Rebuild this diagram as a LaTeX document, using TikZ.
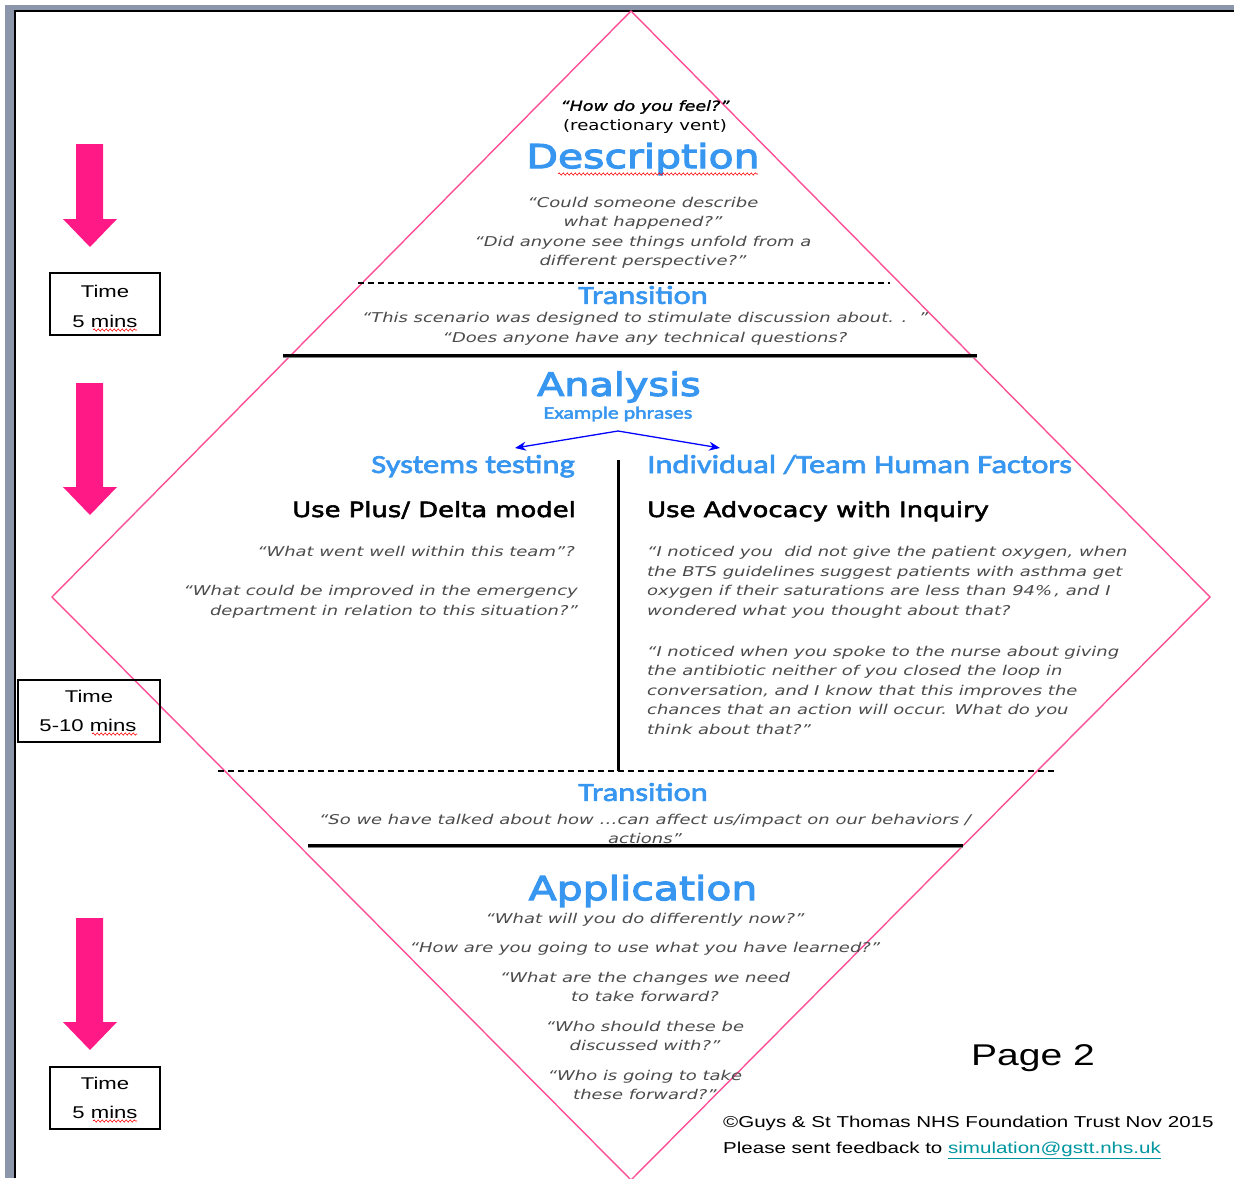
\documentclass[tikz,border=0pt]{standalone}
\usepackage{fontspec}
\usetikzlibrary{arrows.meta,decorations.pathmorphing}
\newfontfamily\dvf[FakeStretch=1.25]{DejaVu Sans}
\newfontfamily\dvtf[FakeStretch=1.24,FakeBold=3.5]{DejaVu Sans}
\newfontfamily\dvhf[FakeStretch=1.23,FakeBold=2.5]{DejaVu Sans}
\newfontfamily\dvqf[FakeStretch=1.33]{DejaVu Sans}
\newfontfamily\dvqbf[FakeStretch=1.25,FakeBold=1.5]{DejaVu Sans}
\newfontfamily\clf[FakeStretch=1.25,FakeBold=2.5]{Carlito}
\newfontfamily\arf[FakeStretch=1.3]{Liberation Sans}
\definecolor{pinkline}{RGB}{252,80,150}
\definecolor{pinkarrow}{RGB}{255,25,135}
\definecolor{tblue}{RGB}{55,150,240}
\definecolor{qgray}{RGB}{75,75,75}
\definecolor{linkc}{RGB}{0,150,160}
\definecolor{framegray}{RGB}{140,150,170}
\tikzset{
  title/.style={font=\dvtf\fontsize{33}{36}\selectfont, text=tblue, inner sep=0pt},
  sub/.style={font=\clf\fontsize{26}{28}\selectfont, text=tblue, inner sep=0pt},
  qt/.style={font=\dvqf\itshape\fontsize{13.5}{19.5}\selectfont, text=qgray, inner sep=0pt},
  headtxt/.style={font=\dvhf\fontsize{21}{24}\selectfont, inner sep=0pt},
  timebox/.style={draw, line width=1.5pt, inner sep=0pt, minimum height=62pt},
  timetxt/.style={font=\arf\fontsize{17}{20}\selectfont, inner sep=0pt},
  dashline/.style={line width=1.2pt, dash pattern=on 6pt off 4pt},
  solidline/.style={line width=3pt},
  barrow/.style={blue, line width=1.3pt, -{Stealth[length=11pt,width=9pt]}},
  squig/.style={red, line width=0.6pt, decorate, decoration={snake, amplitude=1.1pt, segment length=4pt}},
  parrow/.style={fill=pinkarrow}
}
\begin{document}
\begin{tikzpicture}[x=1pt,y=-1pt]
\useasboundingbox (0,0) rectangle (1234,1178);
\fill[white] (0,0) rectangle (1234,1178);
% page frame
\fill[framegray] (5,5) rectangle (1234,10);
\fill[framegray] (5,5) rectangle (14,1178);
\draw[line width=1.5pt] (15,1178) -- (15,11) -- (1234,11);
% diamond
\coordinate (dtop) at (631,11);
\coordinate (dright) at (1210,597);
\coordinate (dbot) at (631,1180);
\coordinate (dleft) at (52,597);
\draw[pinkline, line width=1.4pt] (dtop) -- (dright) -- (dbot) -- (dleft) -- cycle;
% separators
\draw[dashline] (358,283) -- (890,283);
\draw[gray, line width=1.5pt] (283,357.5) -- (977,357.5);
\draw[solidline] (283,355) -- (977,355);
\draw[dashline] (218,771) -- (1055,771);
\draw[gray, line width=1.5pt] (308,847.5) -- (963,847.5);
\draw[solidline] (308,845) -- (963,845);
\draw[line width=3pt] (618,460) -- (618,771);
% pink arrows
\fill[parrow] (76,144) -- (103,144) -- (103,219) -- (117,219) -- (90,247) -- (63,219) -- (76,219) -- cycle;
\fill[parrow] (76,383) -- (103,383) -- (103,487) -- (117,487) -- (90,515) -- (63,487) -- (76,487) -- cycle;
\fill[parrow] (76,918) -- (103,918) -- (103,1022) -- (117,1022) -- (90,1050) -- (63,1022) -- (76,1022) -- cycle;
% time boxes
\node[timebox, minimum width=110pt] (t1) at (105,304) {};
\node[timetxt, anchor=base] (t1a) at (105,297) {Time};
\node[timetxt, anchor=base] (t1b) at (105,327) {5 mins};
\node[timebox, minimum width=142pt] (t2) at (89,711) {};
\node[timetxt, anchor=base] (t2a) at (89,702) {Time};
\node[timetxt, anchor=base] (t2b) at (88,731) {5-10 mins};
\node[timebox, minimum width=110pt] (t3) at (105,1098) {};
\node[timetxt, anchor=base] (t3a) at (105,1089) {Time};
\node[timetxt, anchor=base] (t3b) at (105,1118) {5 mins};
\draw[squig] (93,330) -- (137,330);
\draw[squig] (92,734) -- (137,734);
\draw[squig] (93,1121) -- (137,1121);
% Description section
\node[inner sep=0pt, font=\dvqbf\itshape\fontsize{14}{16}\selectfont] (feel) at (645,107) {“How do you feel?”};
\node[inner sep=0pt, font=\dvf\fontsize{14.5}{16}\selectfont] (vent) at (645,126) {(reactionary vent)};
\node[title] (desc) at (643,159) {Description};
\draw[squig] (558,174) -- (758,174);
\node[qt, align=center] (descq) at (643,233) {“Could someone describe\\what happened?”\\“Did anyone see things unfold from a\\different perspective?”};
\node[sub] (trans1) at (643,295) {Transition};
\node[qt, align=center] (trans1q) at (645,329) {“This scenario was designed to stimulate discussion about. .\ \ ”\\“Does anyone have any technical questions?};
% Analysis section
\node[title, font=\dvtf\fontsize{32}{36}\selectfont] (anal) at (619,387) {Analysis};
\node[sub, font=\clf\fontsize{17.5}{18}\selectfont] (ex) at (618,414) {Example phrases};
\coordinate (fork) at (618,431);
\coordinate (lend) at (515,448);
\coordinate (rend) at (720,448);
\draw[barrow] (fork) -- (lend);
\draw[barrow] (fork) -- (rend);
\node[sub, anchor=base east] (sys) at (575,473) {Systems testing};
\node[sub, anchor=base west] (ind) at (647,473) {Individual /Team Human Factors};
\node[headtxt, anchor=base east] (plus) at (576,517) {Use Plus/ Delta model};
\node[headtxt, anchor=base west] (adv) at (647,517) {Use Advocacy with Inquiry};
\node[qt, anchor=base east] (wq1) at (575,556) {“What went well within this team”?};
\node[qt, anchor=east, align=right] (wq2) at (578,602) {“What could be improved in the emergency\\department in relation to this situation?”};
\node[qt, anchor=west, align=left] (aq1) at (647,582.5) {“I noticed you\ \ did not give the patient oxygen, when\\the BTS guidelines suggest patients with asthma get\\oxygen if their saturations are less than 94\%\,, and I\\wondered what you thought about that?};
\node[qt, anchor=west, align=left] (aq2) at (647,690) {“I noticed when you spoke to the nurse about giving\\the antibiotic neither of you closed the loop in\\conversation, and I know that this improves the\\chances that an action will occur. What do you\\think about that?”};
% Transition 2
\node[sub] (trans2) at (643,792) {Transition};
\node[qt, align=center, font=\dvqf\itshape\fontsize{13.5}{19}\selectfont] (trans2q) at (645,829) {“So we have talked about how …can affect us/impact on our behaviors /\\actions”};
% Application
\node[title] (app) at (643,891) {Application};
\node[qt] (ap1) at (645,920) {“What will you do differently now?”};
\node[qt] (ap2) at (645,949) {“How are you going to use what you have learned?”};
\node[qt, align=center] (ap3) at (645,987) {“What are the changes we need\\to take forward?};
\node[qt, align=center] (ap4) at (645,1036) {“Who should these be\\discussed with?”};
\node[qt, align=center] (ap5) at (645,1085) {“Who is going to take\\these forward?”};
% footer
\node[inner sep=0pt, font=\arf\fontsize{30}{32}\selectfont] (page) at (1033,1058) {Page 2};
\node[inner sep=0pt, anchor=west, font=\arf\fontsize{15.8}{18}\selectfont] (copy) at (723,1123) {©Guys \& St Thomas NHS Foundation Trust Nov 2015};
\node[inner sep=0pt, anchor=west, font=\arf\fontsize{15.8}{18}\selectfont] (fb) at (723,1150) {Please sent feedback to \textcolor{linkc}{\underline{simulation@gstt.nhs.uk}}};
\end{tikzpicture}
\end{document}
